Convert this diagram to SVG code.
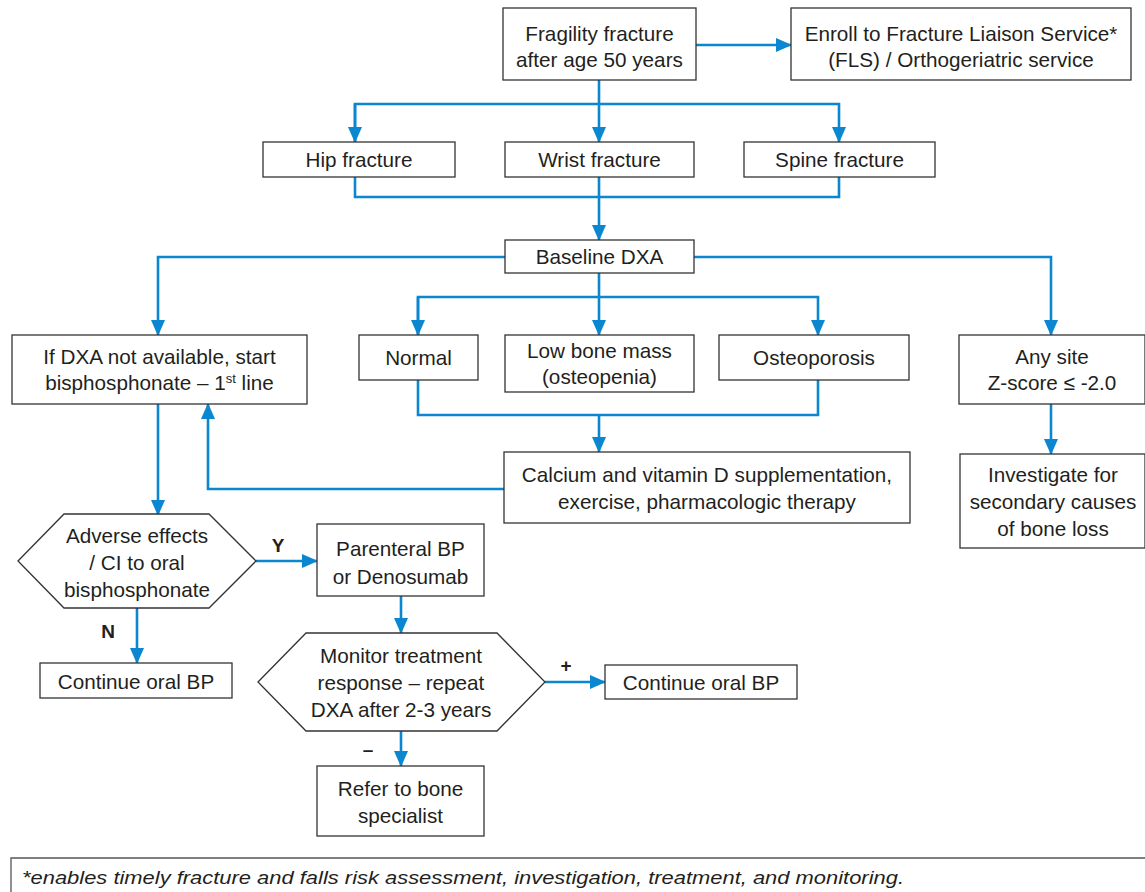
<svg xmlns="http://www.w3.org/2000/svg" width="1145" height="892" viewBox="0 0 1145 892">
<defs>
<marker id="ah" markerUnits="userSpaceOnUse" markerWidth="16" markerHeight="14" refX="15" refY="7" orient="auto">
<path d="M0,0 L16,7 L0,14 Z" fill="#0a87d0"/>
</marker>
</defs>
<style>
.n rect,.n polygon{fill:#fff;stroke:#333;stroke-width:1.3}
text{font-family:"Liberation Sans",Arial,sans-serif;font-size:20.7px;fill:#231f20;text-anchor:middle}
.lb{font-weight:bold;font-size:19px}
#connectors path{fill:none;stroke:#0a87d0;stroke-width:2.6}
.fn{font-style:italic;text-anchor:start;font-size:18px}
</style>
<rect width="1145" height="892" fill="#fff"/>
<g id="connectors">
<path d="M696,45 H791" marker-end="url(#ah)"/>
<path d="M599,80 V142" marker-end="url(#ah)"/>
<path d="M355,142 V104 H839 V142" marker-end="url(#ah)"/>
<path d="M355,104 V142" marker-end="url(#ah)"/>
<path d="M355,177 V197 H839 V177"/>
<path d="M599,177 V240" marker-end="url(#ah)"/>
<path d="M505,257 H158 V335" marker-end="url(#ah)"/>
<path d="M694,257 H1051 V335" marker-end="url(#ah)"/>
<path d="M599,273 V335" marker-end="url(#ah)"/>
<path d="M418,335 V297 H818 V335" marker-end="url(#ah)"/>
<path d="M418,297 V335" marker-end="url(#ah)"/>
<path d="M418,380 V415 H818 V380"/>
<path d="M599,415 V452" marker-end="url(#ah)"/>
<path d="M504,489 H208 V404" marker-end="url(#ah)"/>
<path d="M158,404 V515" marker-end="url(#ah)"/>
<path d="M1051,404 V454" marker-end="url(#ah)"/>
<path d="M256,561 H317" marker-end="url(#ah)"/>
<path d="M137,608 V663" marker-end="url(#ah)"/>
<path d="M401,596 V633" marker-end="url(#ah)"/>
<path d="M545,682 H605" marker-end="url(#ah)"/>
<path d="M401,731 V766" marker-end="url(#ah)"/>
</g>
<g id="labels">
<text class="lb" x="278" y="552">Y</text>
<text class="lb" x="108" y="638">N</text>
<text class="lb" x="566" y="672">+</text>
<text class="lb" x="368" y="756">–</text>
</g>
<g id="fragility" class="n"><rect x="503" y="8" width="193" height="72"/><text x="599.5" y="41">Fragility fracture</text><text x="599.5" y="67">after age 50 years</text></g>
<g id="enroll" class="n"><rect x="791" y="8" width="340" height="72"/><text x="961" y="41">Enroll to Fracture Liaison Service*</text><text x="961" y="67">(FLS) / Orthogeriatric service</text></g>
<g id="hip" class="n"><rect x="263" y="142" width="192" height="35"/><text x="359" y="167">Hip fracture</text></g>
<g id="wrist" class="n"><rect x="505" y="142" width="189" height="35"/><text x="599.5" y="167">Wrist fracture</text></g>
<g id="spine" class="n"><rect x="744" y="142" width="191" height="35"/><text x="839.5" y="167">Spine fracture</text></g>
<g id="baseline" class="n"><rect x="505" y="240" width="189" height="33"/><text x="599.5" y="264">Baseline DXA</text></g>
<g id="nodxa" class="n"><rect x="12" y="335" width="295" height="69"/><text x="159.5" y="364">If DXA not available, start</text><text x="159.5" y="390">bisphosphonate – 1<tspan font-size="13" dy="-7">st</tspan><tspan dy="7"> line</tspan></text></g>
<g id="normal" class="n"><rect x="359" y="335" width="119" height="45"/><text x="418.5" y="365">Normal</text></g>
<g id="lowbone" class="n"><rect x="505" y="335" width="189" height="57"/><text x="599.5" y="358">Low bone mass</text><text x="599.5" y="384">(osteopenia)</text></g>
<g id="osteoporosis" class="n"><rect x="719" y="335" width="190" height="45"/><text x="814" y="365">Osteoporosis</text></g>
<g id="anysite" class="n"><rect x="959" y="335" width="186" height="69"/><text x="1052" y="364">Any site</text><text x="1052" y="390">Z-score ≤ -2.0</text></g>
<g id="calcium" class="n"><rect x="504" y="452" width="406" height="71"/><text x="707" y="482">Calcium and vitamin D supplementation,</text><text x="707" y="509">exercise, pharmacologic therapy</text></g>
<g id="investigate" class="n"><rect x="960" y="454" width="185" height="94"/><text x="1053" y="482">Investigate for</text><text x="1053" y="509">secondary causes</text><text x="1053" y="536">of bone loss</text></g>
<g id="adverse" class="n"><polygon points="18,561 64,514 209,514 256,561 209,608 64,608"/><text x="137" y="543">Adverse effects</text><text x="137" y="570">/ CI to oral</text><text x="137" y="597">bisphosphonate</text></g>
<g id="parenteral" class="n"><rect x="317" y="524" width="167" height="72"/><text x="400.5" y="556">Parenteral BP</text><text x="400.5" y="584">or Denosumab</text></g>
<g id="continue1" class="n"><rect x="40" y="663" width="192" height="35"/><text x="136" y="689">Continue oral BP</text></g>
<g id="monitor" class="n"><polygon points="258,682 306,633 497,633 545,682 497,731 306,731"/><text x="401" y="663">Monitor treatment</text><text x="401" y="690">response – repeat</text><text x="401" y="717">DXA after 2-3 years</text></g>
<g id="continue2" class="n"><rect x="605" y="665" width="192" height="34"/><text x="701" y="690">Continue oral BP</text></g>
<g id="refer" class="n"><rect x="317" y="766" width="167" height="70"/><text x="400.5" y="796">Refer to bone</text><text x="400.5" y="823">specialist</text></g>
<g id="footnote"><path d="M11,892 V858 H1145" fill="none" stroke="#555" stroke-width="1.3"/><text class="fn" x="22" y="884" textLength="882" lengthAdjust="spacingAndGlyphs">*enables timely fracture and falls risk assessment, investigation, treatment, and monitoring.</text></g>
</svg>
